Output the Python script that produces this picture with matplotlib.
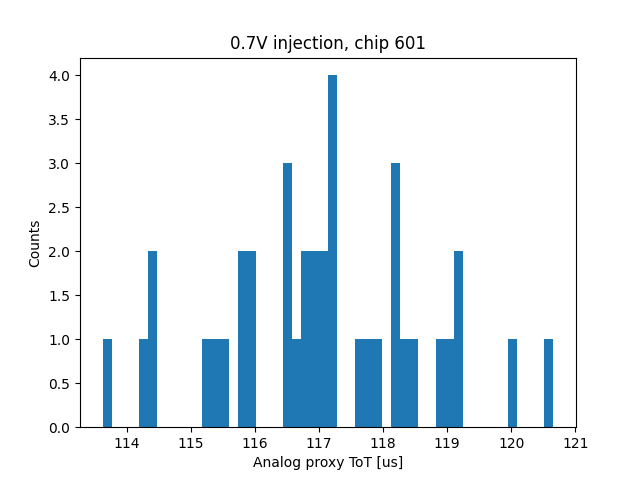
import numpy as np
import matplotlib
matplotlib.use("Agg")
import matplotlib.pyplot as plt

# histogram: 50 bins between lo and hi
lo, hi = 113.62, 120.66
counts = [1, 0, 0, 0, 1, 2, 0, 0, 0, 0,
          0, 1, 1, 1, 0, 2, 2, 0, 0, 0,
          3, 1, 2, 2, 2, 4, 0, 0, 1, 1,
          1, 0, 3, 1, 1, 0, 0, 1, 1, 2,
          0, 0, 0, 0, 0, 1, 0, 0, 0, 1]

edges = np.linspace(lo, hi, len(counts) + 1)
centers = 0.5 * (edges[:-1] + edges[1:])

plt.figure(figsize=(6.4, 4.8), dpi=100)
plt.hist(centers, bins=edges, weights=counts)
plt.xlabel('Analog proxy ToT [us]')
plt.ylabel('Counts')
plt.title('0.7V injection, chip 601')
plt.savefig('out.png')
